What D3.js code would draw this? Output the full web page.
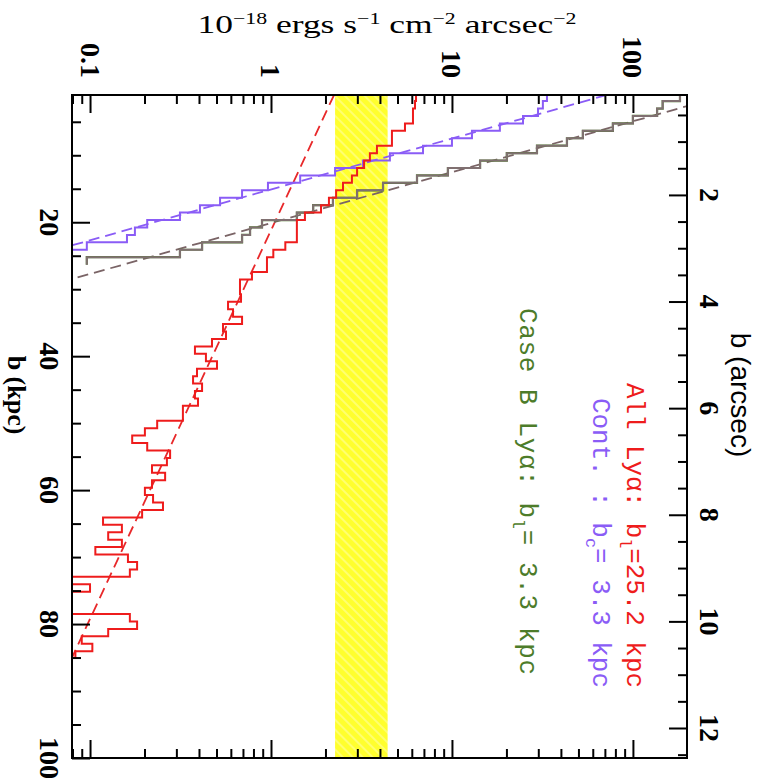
<!doctype html>
<html>
<head>
<meta charset="utf-8">
<title>Surface brightness profiles</title>
<script src="https://cdnjs.cloudflare.com/ajax/libs/d3/7.8.5/d3.min.js"></script>
<style>
  body { margin: 0; background: #fff; }
  .lbl { font-family: 'Liberation Serif', serif; font-weight: bold; font-size: 28px; }
</style>
</head>
<body>
<div id="chart"></div>
<script>
// surface brightness in 1e-18 erg/s/cm2/arcsec2, one value per radial bin
// bins are regular in b (kpc)
const binStart = 0.8, binWidth = 1.11;
const kpcPerArcsec = 7.96;

const lyaAll = [6.33, 6.25, 6.09, 6.09, 5.50, 4.66, 4.66, 3.85, 3.52, 3.27,
  2.99, 2.80, 2.50, 2.29, 2.09, 1.89, 1.54, 1.39, 1.39, 1.39,
  1.20, 1.03, 0.95, 0.95, 0.785, 0.674, 0.674, 0.683, 0.579, 0.617,
  0.692, 0.543, 0.564, 0.472, 0.380, 0.437, 0.503, 0.390, 0.371, 0.416,
  0.380, 0.395, 0.326, 0.326, 0.235, 0.201, 0.171, 0.207, 0.277, 0.266,
  0.220, 0.260, 0.220, 0.201, 0.223, 0.253, 0.194, 0.118, 0.150, 0.126,
  0.150, 0.107, 0.162, 0.182, 0.166, 0, 0.100, 0, 0, 0,
  0.166, 0.182, 0.126, 0.090, 0.103, 0.083];

const continuum = [33.5, 31.8, 29.9, 24.7, 18.4, 12.9, 10.0, 6.92, 4.54, 3.22,
  2.26, 1.45, 0.962, 0.692, 0.523, 0.405, 0.314, 0.207, 0.177, 0.160,
  0.096, 0];

const caseB = [182, 146, 136, 100, 77.5, 52.9, 43.2, 29.5, 20.1, 14.3,
  9.50, 6.41, 4.16, 2.99, 2.20, 1.71, 1.39, 0.892, 0.766, 0.692,
  0.416, 0.314, 0.096];

// exponential fits  SB = amp * exp(-b / scale)
const fitAmp = [2.32, 97, 445];
const fitScale = [25.2, 3.3, 3.3];

// shaded band (SB range)
const bandSB = [2.26, 4.41];

const sbTicks = [0.1, 1, 10, 100];
const sbTickLabels = ['0.1', '1', '10', '100'];
const kpcTicks = [20, 40, 60, 80, 100];
const arcsecTicks = [2, 4, 6, 8, 10, 12];

const legendMain = ['All Ly\u03b1: b', 'Cont. : b', 'Case B Ly\u03b1: b'];
const legendSub = ['l', 'c', 'l'];
const legendRest = ['=25.2 kpc', '= 3.3 kpc', '= 3.3 kpc'];

const red = '#ee1c1c', purple = '#8a5cf6', mauve = '#8a6f7e', green = '#4d7c2a';
const fitColors = ['#e8282a', '#8a5cf6', '#7a6466'];
const legendColors = [red, purple, green];

const W = 766, H = 783;
const plot = {left: 72, right: 687, top: 95, bottom: 758};

const svg = d3.select('#chart').append('svg')
  .attr('width', W).attr('height', H);

const x = d3.scaleLog().domain([0.0795, 199]).range([plot.left, plot.right]);
const xc = x.copy().clamp(true);
const y = d3.scaleLinear().domain([1, 100]).range([plot.top, plot.bottom]);
const yArc = d3.scaleLinear()
  .domain([1 / kpcPerArcsec, 100 / kpcPerArcsec])
  .range([plot.top, plot.bottom]);

const defs = svg.append('defs');
defs.append('clipPath').attr('id', 'clip')
  .append('rect')
  .attr('x', plot.left).attr('y', plot.top)
  .attr('width', plot.right - plot.left).attr('height', plot.bottom - plot.top);

const hatch = defs.append('pattern').attr('id', 'hatch')
  .attr('width', 7).attr('height', 7)
  .attr('patternUnits', 'userSpaceOnUse')
  .attr('patternTransform', 'rotate(-45)');
hatch.append('rect').attr('width', 7).attr('height', 7).attr('fill', '#ffff2e');
hatch.append('line').attr('x1', 1).attr('x2', 1).attr('y1', 0).attr('y2', 7)
  .attr('stroke', '#ffff8c').attr('stroke-width', 1.4);

// yellow band
svg.append('rect')
  .attr('x', x(bandSB[0])).attr('y', plot.top)
  .attr('width', x(bandSB[1]) - x(bandSB[0]))
  .attr('height', plot.bottom - plot.top)
  .attr('fill', 'url(#hatch)');

const lines = svg.append('g').attr('clip-path', 'url(#clip)');

// dashed exponential fits
const fitLine = d3.line().x(d => x(d[1])).y(d => y(d[0]));
fitAmp.forEach((amp, i) => {
  const pts = y.domain().map(b => [b, amp * Math.exp(-b / fitScale[i])]);
  lines.append('path')
    .attr('d', fitLine(pts))
    .attr('fill', 'none')
    .attr('stroke', fitColors[i])
    .attr('stroke-width', 1.8)
    .attr('stroke-dasharray', '11,6');
});

// histogram steps
function stepPoints(values) {
  const pts = [];
  values.forEach((v, k) => {
    const b0 = binStart + k * binWidth;
    pts.push([b0, v], [b0 + binWidth, v]);
  });
  return pts;
}
const stepLine = d3.line().x(d => xc(d[1])).y(d => y(d[0]));

lines.append('path')
  .attr('d', stepLine(stepPoints(caseB)))
  .attr('fill', 'none').attr('stroke', green).attr('stroke-width', 2.2);
[caseB, continuum, lyaAll].forEach((s, i) => {
  lines.append('path')
    .attr('d', stepLine(stepPoints(s)))
    .attr('fill', 'none')
    .attr('stroke', [mauve, purple, red][i])
    .attr('stroke-opacity', i == 0 ? 0.85 : 1)
    .attr('stroke-width', 2);
});

// frame
svg.append('rect')
  .attr('x', plot.left).attr('y', plot.top)
  .attr('width', plot.right - plot.left).attr('height', plot.bottom - plot.top)
  .attr('fill', 'none').attr('stroke', '#000').attr('stroke-width', 2);

// ticks, all pointing inwards
function ticks(axis, pos, values, size) {
  svg.append('g')
    .attr('transform', pos)
    .call(axis.tickValues(values).tickSize(-size).tickSizeOuter(0).tickFormat(''))
    .call(g => g.select('.domain').remove())
    .call(g => g.selectAll('line').attr('stroke', '#000').attr('stroke-width', 2));
}
const sbMinor = x.ticks().filter(v => !sbTicks.includes(v) && v < 199);
const kpcMinor = d3.range(5, 100, 5).filter(v => !kpcTicks.includes(v));
const arcMinor = d3.range(0.5, 12.6, 0.5).filter(v => !arcsecTicks.includes(v));

ticks(d3.axisTop(x), `translate(0,${plot.top})`, sbTicks, 18);
ticks(d3.axisTop(x), `translate(0,${plot.top})`, sbMinor, 9);
ticks(d3.axisBottom(x), `translate(0,${plot.bottom})`, sbTicks, 18);
ticks(d3.axisBottom(x), `translate(0,${plot.bottom})`, sbMinor, 9);
ticks(d3.axisLeft(y), `translate(${plot.left},0)`, kpcTicks, 18);
ticks(d3.axisLeft(y), `translate(${plot.left},0)`, kpcMinor, 9);
ticks(d3.axisRight(yArc), `translate(${plot.right},0)`, arcsecTicks, 18);
ticks(d3.axisRight(yArc), `translate(${plot.right},0)`, arcMinor, 9);

// tick labels (whole figure is turned a quarter clockwise)
svg.selectAll('.sbLabel').data(sbTicks).join('text')
  .attr('class', 'lbl')
  .attr('transform', d => `translate(${x(d)},78) rotate(90)`)
  .attr('text-anchor', 'end')
  .attr('dominant-baseline', 'central')
  .text((d, i) => sbTickLabels[i]);

svg.selectAll('.kpcLabel').data(kpcTicks).join('text')
  .attr('class', 'lbl')
  .attr('transform', d => `translate(49,${y(d)}) rotate(90)`)
  .attr('text-anchor', 'middle')
  .attr('dominant-baseline', 'central')
  .text(d => d);

svg.selectAll('.arcLabel').data(arcsecTicks).join('text')
  .attr('class', 'lbl')
  .attr('transform', d => `translate(709,${yArc(d)}) rotate(90)`)
  .attr('text-anchor', 'middle')
  .attr('dominant-baseline', 'central')
  .text(d => d);

// axis titles
svg.append('text')
  .attr('class', 'lbl')
  .attr('transform', 'translate(16,395) rotate(90)')
  .attr('text-anchor', 'middle')
  .attr('dominant-baseline', 'central')
  .style('font-size', '26px')
  .text('b (kpc)');

svg.append('text')
  .attr('transform', 'translate(740,395) rotate(90)')
  .attr('text-anchor', 'middle')
  .attr('dominant-baseline', 'central')
  .style('font-family', "'Liberation Sans', sans-serif")
  .style('font-size', '28px')
  .text('b (arcsec)');

const title = svg.append('text')
  .attr('x', 387).attr('y', 33)
  .attr('text-anchor', 'middle')
  .attr('textLength', 379)
  .attr('lengthAdjust', 'spacingAndGlyphs')
  .style('font-family', "'Liberation Serif', serif")
  .style('font-size', '26px');
[['10', '\u221218'], [' ergs s', '\u22121'], [' cm', '\u22122'], [' arcsec', '\u22122']]
  .forEach(([base, sup], i) => {
    title.append('tspan').attr('dy', i == 0 ? 0 : 9).text(base);
    title.append('tspan').attr('dy', -9).style('font-size', '16px').text(sup);
  });

// legend
const legendX = [627, 593, 520], legendY = [383, 398, 308], legendLen = [305, 290, 367];
legendMain.forEach((m, i) => {
  const t = svg.append('text')
    .attr('transform', `translate(${legendX[i]},${legendY[i]}) rotate(90)`)
    .attr('textLength', legendLen[i])
    .attr('lengthAdjust', 'spacing')
    .style('font-family', "'Liberation Mono', monospace")
    .style('font-size', '26px')
    .attr('fill', legendColors[i]);
  t.append('tspan').text(m);
  t.append('tspan').attr('dy', 7).style('font-size', '17px').text(legendSub[i]);
  t.append('tspan').attr('dy', -7).text(legendRest[i]);
});
</script>
</body>
</html>
